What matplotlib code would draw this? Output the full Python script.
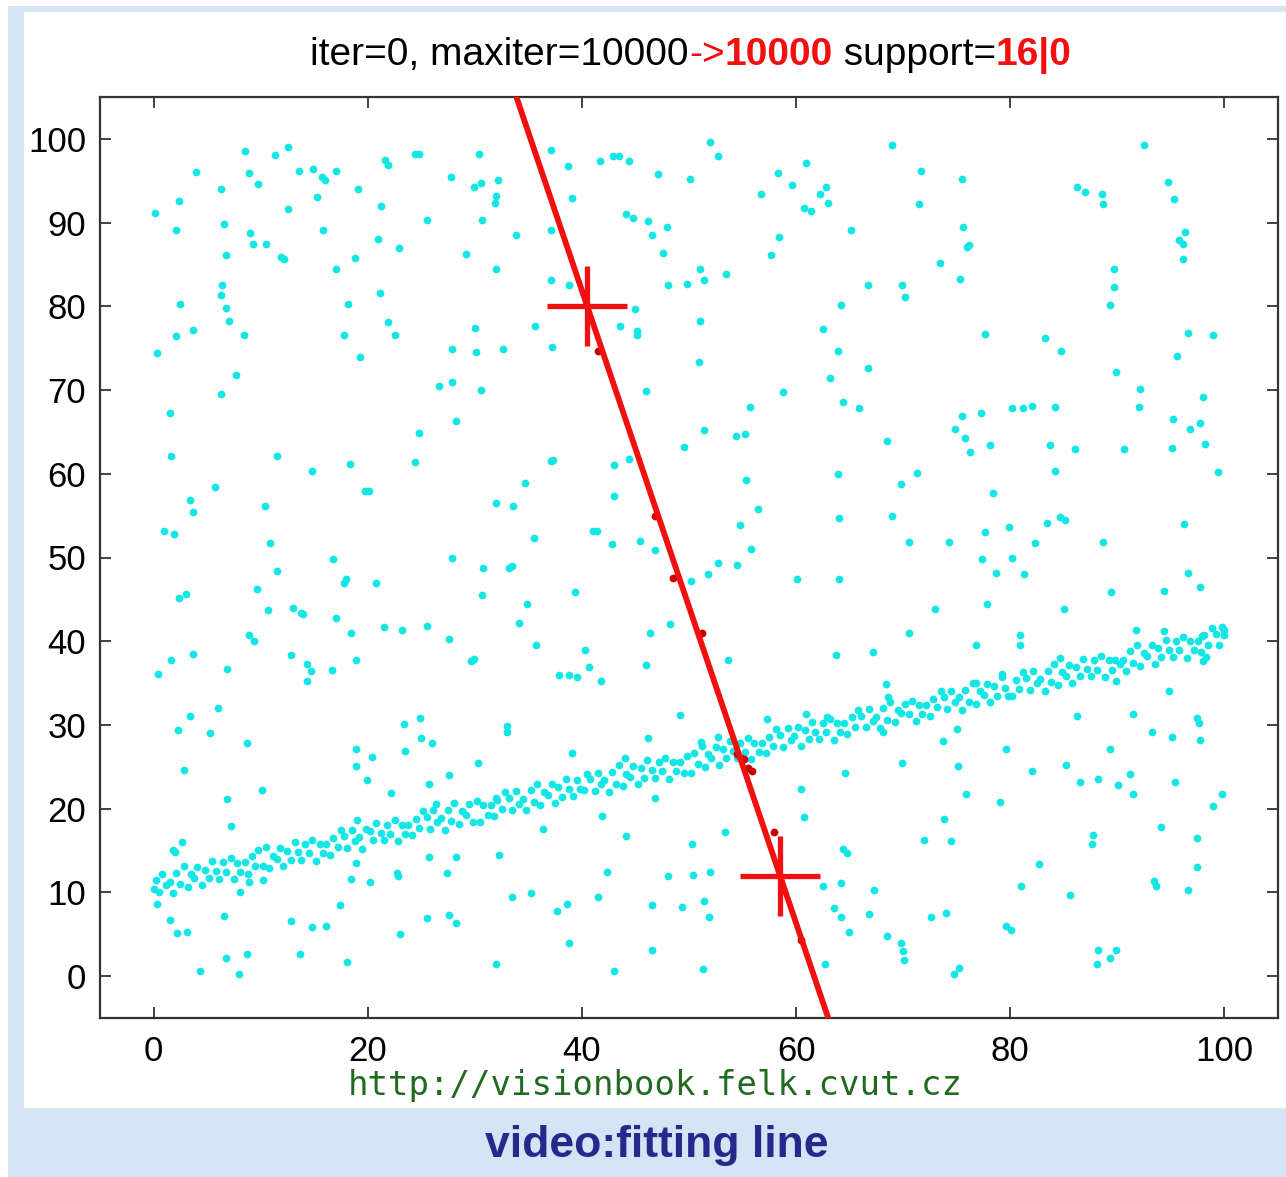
import matplotlib
matplotlib.use("Agg")
import matplotlib.pyplot as plt
from matplotlib.patches import Rectangle

# ---------------- data ----------------
# scattered outliers
out_x = [8.5, 11.3, 12.6, 4.0, 8.9, 9.8, 13.6, 14.9, 15.7, 16.0, 17.0, 21.6, 21.9, 24.4, 24.8, 30.4,
         6.3, 2.4, 0.1, 12.6, 15.3, 19.1, 21.2, 27.8, 29.9, 30.6, 32.0, 31.9, 32.2, 2.1, 6.6, 9.0,
         9.3, 10.5, 6.8, 11.9, 12.2, 15.8, 17.0, 18.8, 21.0, 22.9, 25.5, 29.2, 30.7, 32.0, 6.4, 6.3,
         2.5, 6.8, 7.0, 3.7, 2.1, 8.4, 0.3, 7.7, 6.3, 21.1, 18.2, 21.9, 22.5, 17.8, 19.3, 30.0,
         27.9, 30.1, 26.7, 27.9, 30.6,
         37.1, 38.7, 41.7, 42.9, 43.5, 44.4, 47.1, 50.1, 52.0, 52.7, 39.1, 44.1, 44.8, 46.2, 47.9,
         46.5, 47.6, 33.8, 37.1, 37.1, 38.8, 51.0, 51.4, 53.5, 48.0, 49.8, 45.0, 35.6, 43.6, 45.1,
         45.1, 51.0, 37.2, 32.6, 50.9, 46.0, 58.8, 58.3, 60.9, 59.6, 62.8, 62.2, 63.0, 60.7, 61.4,
         56.7, 65.1, 58.4, 57.7, 69.0, 66.7, 64.2, 62.5, 63.9, 66.7, 63.2,
         71.7, 75.5, 71.5, 75.6, 76.0, 76.1, 73.4, 75.3, 69.9, 70.2, 77.6, 83.2, 84.7, 89.9, 92.1,
         98.0, 86.2, 87.0, 88.6, 88.7, 92.5, 94.7, 95.3, 96.3, 95.8, 96.1, 96.1, 89.7, 89.7, 89.3,
         96.6, 98.9, 95.6,
         1.5, 1.6, 11.5, 14.8, 18.3, 24.4, 24.8, 28.2, 5.7, 3.4, 3.7, 10.4, 19.7, 20.1, 32.0, 1.0,
         1.9, 10.9, 16.8, 27.9, 30.8, 11.5, 18.0, 17.8, 20.8, 2.4, 3.0, 9.7, 30.7, 10.7, 13.0, 13.8,
         14.0, 17.0, 18.4, 21.5, 23.2, 25.5, 27.6, 8.9, 9.4, 1.6, 3.7, 0.4, 6.9, 12.8, 14.3, 14.7,
         14.3, 16.7, 18.9, 29.9, 29.6,
         55.7, 64.4, 65.9, 51.4, 54.4, 55.2, 49.5, 68.5, 37.1, 37.3, 43.0, 44.4, 55.3, 63.9, 34.7,
         43.0, 33.6, 56.4, 64.0, 69.0, 54.8, 41.0, 41.4, 35.5, 42.8, 45.4, 46.8, 55.8, 33.2, 33.5,
         52.7, 54.5, 51.8, 50.2, 60.1, 64.0, 39.4, 34.9, 34.1, 48.2, 46.4, 35.7, 40.3, 40.7, 37.9,
         38.8, 39.5, 41.8, 46.0, 53.6, 63.7, 67.2, 68.4,
         92.0, 75.5, 77.3, 80.2, 81.2, 82.0, 84.2, 74.8, 75.8, 76.2, 78.1, 83.7, 86.0, 90.6, 95.2,
         96.8, 97.7, 95.1, 98.2, 84.2, 99.4, 71.3, 69.8, 78.4, 77.6, 79.9, 83.4, 84.6, 85.1, 96.2,
         70.5, 74.3, 82.3, 88.7, 77.4, 80.2, 78.7, 81.3, 96.6, 97.7, 89.4, 94.4, 73.0, 77.8, 85.0,
         70.5, 76.8, 80.9, 80.9, 91.7, 94.4, 97.9, 84.6, 79.2, 76.8, 89.9, 98.0, 98.3,
         3.4, 6.0, 2.3, 5.3, 8.7, 2.8, 10.1, 6.9, 7.2, 2.0, 2.7, 1.8, 0.3, 1.5, 2.2, 3.1, 6.6, 8.1,
         8.9, 10.2, 6.8, 8.7, 4.3, 8.0, 12.8, 13.7, 14.8, 16.1, 17.4, 18.1, 18.9, 18.9, 20.4, 19.9,
         19.0, 18.9, 18.4, 20.2, 22.2, 23.4, 24.9, 23.5, 25.0, 26.0, 25.7, 26.4, 27.6, 30.3, 32.0,
         22.7, 22.8, 25.7, 28.2, 27.4, 25.5, 27.6, 28.2, 23.0, 32.0, 32.3,
         49.2, 33.0, 33.0, 46.2, 39.1, 44.0, 51.1, 52.7, 57.3, 60.9, 62.9, 68.6, 64.6, 60.5, 60.7,
         46.8, 41.9, 36.4, 44.1, 50.3, 53.4, 42.3, 48.0, 50.4, 52.0, 33.5, 35.2, 41.5, 37.7,
         38.6, 46.5, 49.3, 51.4, 51.9, 38.8, 46.5, 43.0, 51.3, 64.4, 64.8, 62.5, 64.2, 67.3, 63.5,
         64.2, 66.8, 64.9, 68.5, 62.7,
         86.2, 91.5, 94.8, 97.4, 97.6, 97.7, 93.2, 95.1, 68.1, 73.7, 75.0, 69.9, 75.1, 79.6, 82.0,
         85.2, 89.3, 86.5, 88.2, 90.1, 91.2, 91.5, 95.4, 75.9, 79.0, 98.9, 99.8, 73.8, 71.9, 74.5,
         94.1, 87.7, 87.6, 97.4, 82.7, 97.4, 81.0, 85.6, 93.4, 93.6, 96.6, 72.6, 74.0, 79.6, 80.1,
         69.8, 70.0, 70.1, 74.7, 75.2, 88.2, 89.9, 89.3, 88.1]
out_y = [98.5, 98.1, 99.0, 96.1, 95.9, 94.6, 96.2, 96.4, 95.5, 95.1, 96.2, 97.5, 96.9, 98.2, 98.2, 98.2,
         94.0, 92.6, 91.1, 91.6, 93.0, 94.0, 92.0, 95.5, 94.2, 94.7, 93.2, 92.3, 95.1, 89.1, 89.8, 88.7,
         87.5, 87.4, 86.1, 85.9, 85.6, 89.1, 84.5, 85.8, 88.0, 87.0, 90.3, 86.3, 90.3, 84.4, 82.5, 81.3,
         80.3, 79.8, 78.2, 77.2, 76.5, 76.6, 74.4, 71.8, 69.5, 81.6, 80.3, 78.1, 76.6, 76.6, 74.0, 77.4,
         74.9, 74.6, 70.5, 71.0, 70.0,
         98.7, 96.7, 97.3, 98.0, 97.9, 97.4, 95.8, 95.2, 99.6, 98.0, 92.9, 91.0, 90.5, 90.2, 89.5,
         88.5, 86.4, 88.5, 89.1, 83.1, 82.6, 84.4, 83.2, 83.9, 82.5, 82.7, 79.7, 77.6, 77.6, 77.0,
         76.6, 78.2, 75.1, 74.9, 73.4, 69.9, 69.8, 95.9, 97.1, 94.5, 94.3, 93.4, 92.3, 91.8, 91.4,
         93.4, 89.1, 88.3, 86.1, 99.3, 82.5, 80.1, 77.3, 74.7, 72.6, 71.4,
         96.2, 95.2, 92.2, 89.5, 87.1, 87.3, 85.2, 83.3, 82.5, 81.1, 76.7, 76.2, 74.7, 72.1, 70.1,
         69.2, 94.2, 93.6, 93.4, 92.2, 99.3, 94.9, 92.8, 88.9, 87.9, 87.5, 85.7, 84.5, 82.3, 80.1,
         76.8, 76.6, 74.1,
         67.2, 62.1, 62.1, 60.3, 61.2, 61.4, 64.9, 66.3, 58.4, 56.9, 55.4, 56.2, 58.0, 58.0, 56.5, 53.2,
         52.8, 51.7, 49.8, 49.9, 48.7, 48.4, 47.4, 46.9, 46.9, 45.2, 45.7, 46.2, 45.5, 43.7, 44.0, 43.4,
         43.2, 42.8, 41.0, 41.7, 41.4, 41.8, 40.3, 40.7, 40.0, 37.7, 38.5, 36.1, 36.7, 38.4, 37.3, 36.4,
         35.3, 36.6, 37.7, 37.9, 37.6,
         68.0, 68.6, 67.9, 65.2, 64.5, 64.8, 63.2, 63.9, 61.5, 61.6, 61.1, 61.8, 59.3, 60.0, 58.9,
         57.3, 56.2, 55.8, 54.7, 55.0, 53.9, 53.2, 53.2, 52.3, 51.6, 52.0, 50.9, 51.0, 48.7, 49.0,
         49.3, 49.1, 48.0, 47.2, 47.4, 47.4, 45.9, 44.5, 42.2, 42.1, 41.0, 39.6, 38.9, 36.9, 36.0,
         36.0, 35.7, 35.3, 37.2, 37.7, 38.4, 38.7, 34.9,
         68.0, 66.9, 67.3, 67.8, 67.9, 68.1, 68.0, 65.3, 64.3, 62.6, 63.4, 63.4, 63.0, 63.0, 66.5,
         65.3, 66.1, 63.1, 63.5, 60.3, 60.2, 60.1, 58.8, 57.7, 53.1, 53.6, 54.1, 54.8, 54.5, 54.0,
         51.8, 51.8, 51.7, 51.8, 49.8, 49.9, 48.1, 48.0, 48.2, 46.5, 45.9, 46.0, 43.8, 44.5, 43.8,
         41.0, 39.5, 40.7, 39.5, 41.4, 41.2, 40.6, 38.0, 36.1, 35.0, 35.2, 37.6, 38.1,
         31.1, 32.0, 29.4, 29.0, 27.9, 24.6, 22.2, 21.1, 17.9, 14.8, 16.0, 15.1, 8.6, 6.7, 5.1, 5.3, 7.2, 10.1,
         11.3, 11.5, 2.2, 2.6, 0.6, 0.3, 6.6, 2.6, 5.9, 6.0, 8.5, 1.7, 27.1, 25.1, 26.2, 23.4,
         18.7, 13.5, 11.6, 11.3, 21.9, 30.1, 30.8, 26.9, 28.4, 27.9, 22.9, 20.5, 24.0, 25.4, 21.3,
         12.3, 12.0, 14.2, 14.2, 12.3, 7.0, 7.3, 6.4, 5.0, 1.4, 14.5,
         31.2, 29.9, 29.1, 28.5, 26.7, 26.0, 28.0, 28.6, 30.7, 31.3, 30.9, 33.3, 24.3, 22.3, 19.0,
         21.3, 19.1, 17.6, 16.7, 15.8, 17.2, 12.4, 12.0, 12.1, 12.4, 9.5, 9.9, 9.5, 7.8,
         8.6, 8.5, 8.2, 9.0, 7.1, 4.0, 3.1, 0.6, 0.8, 15.2, 14.7, 10.8, 11.1, 10.3, 8.1,
         7.1, 7.4, 5.3, 4.8, 1.5,
         31.1, 31.3, 34.0, 30.8, 30.2, 28.2, 29.2, 28.6, 29.2, 28.1, 29.5, 25.5, 25.1, 27.1, 24.5,
         25.2, 27.1, 23.2, 23.5, 22.8, 24.1, 21.7, 23.2, 21.7, 20.8, 20.3, 21.7, 18.8, 16.3, 16.1,
         17.8, 16.8, 15.8, 16.5, 13.4, 13.0, 10.8, 9.7, 11.4, 10.8, 10.3, 7.1, 7.6, 6.0, 5.5,
         3.9, 3.0, 1.9, 0.2, 1.0, 3.1, 3.1, 2.2, 1.4]

# the dense band of points along the true line
band_x = [0.2, 0.5, 0.8, 1.2, 1.5, 1.8, 2.1, 2.5, 2.8, 3.2, 3.5, 3.8, 4.1, 4.5, 4.8, 5.2, 5.5, 5.8, 6.1, 6.5, 6.8, 7.2, 7.5, 7.8, 8.1, 8.5, 8.8, 9.2, 9.5, 9.8,
          10.2, 10.5, 10.8, 11.2, 11.5, 11.8, 12.1, 12.5, 12.8, 13.2, 13.5, 13.8, 14.1, 14.5, 14.8, 15.2, 15.5, 15.8, 16.1, 16.5, 16.8, 17.2, 17.5, 17.8, 18.1, 18.5, 18.8, 19.2, 19.5, 19.8,
          20.2, 20.5, 20.8, 21.2, 21.5, 21.8, 22.1, 22.5, 22.8, 23.2, 23.5, 23.8, 24.1, 24.5, 24.8, 25.2, 25.5, 25.8, 26.1, 26.5, 26.8, 27.2, 27.5, 27.8, 28.1, 28.5, 28.8, 29.2, 29.5, 29.8,
          30.2, 30.5, 30.8, 31.2, 31.5, 31.8, 32.1, 32.5, 32.8, 33.2, 33.5, 33.8, 34.1, 34.5, 34.8, 35.2, 35.5, 35.8, 36.1, 36.5, 36.8, 37.2, 37.5, 37.8, 38.1, 38.5, 38.8, 39.2, 39.5, 39.8,
          40.2, 40.5, 40.8, 41.2, 41.5, 41.8, 42.1, 42.5, 42.8, 43.2, 43.5, 43.8, 44.1, 44.5, 44.8, 45.2, 45.5, 45.8, 46.1, 46.5, 46.8, 47.2, 47.5, 47.8, 48.1, 48.5, 48.8, 49.2, 49.5, 49.8,
          50.2, 50.5, 50.8, 51.2, 51.5, 51.8, 52.1, 52.5, 52.8, 53.2, 53.5, 53.8, 54.1, 54.5, 54.8, 55.2, 55.5, 55.8, 56.1, 56.5, 56.8, 57.2, 57.5, 57.8, 58.1, 58.5, 58.8, 59.2, 59.5, 59.8,
          60.2, 60.5, 60.8, 61.2, 61.5, 61.8, 62.1, 62.5, 62.8, 63.2, 63.5, 63.8, 64.1, 64.5, 64.8, 65.2, 65.5, 65.8, 66.1, 66.5, 66.8, 67.2, 67.5, 67.8, 68.1, 68.5, 68.8, 69.2, 69.5, 69.8,
          70.2, 70.5, 70.8, 71.2, 71.5, 71.8, 72.1, 72.5, 72.8, 73.2, 73.5, 73.8, 74.1, 74.5, 74.8, 75.2, 75.5, 75.8, 76.1, 76.5, 76.8, 77.2, 77.5, 77.8, 78.1, 78.5, 78.8, 79.2, 79.5, 79.8,
          80.2, 80.5, 80.8, 81.2, 81.5, 81.8, 82.1, 82.5, 82.8, 83.2, 83.5, 83.8, 84.1, 84.5, 84.8, 85.2, 85.5, 85.8, 86.1, 86.5, 86.8, 87.2, 87.5, 87.8, 88.1, 88.5, 88.8, 89.2, 89.5, 89.8,
          90.2, 90.5, 90.8, 91.2, 91.5, 91.8, 92.1, 92.5, 92.8, 93.2, 93.5, 93.8, 94.1, 94.5, 94.8, 95.2, 95.5, 95.8, 96.1, 96.5, 96.8, 97.2, 97.5, 97.8, 98.1, 98.5, 98.8, 99.2, 99.5, 99.8,
          0.0, 100.0, 100.0]
band_y = [11.5, 10.0, 12.2, 10.9, 11.3, 9.9, 12.3, 11.0, 13.1, 10.7, 12.2, 11.7, 13.0, 10.9, 12.7, 11.7, 13.8, 12.5, 11.6, 13.6, 12.4, 14.1, 11.6, 13.5, 12.4, 13.6, 12.2, 14.3, 13.2, 15.1,
          13.2, 15.4, 12.9, 14.4, 14.0, 15.3, 13.1, 15.0, 13.9, 16.0, 14.8, 13.9, 15.8, 14.7, 16.3, 13.8, 15.8, 14.7, 15.8, 14.5, 16.5, 15.4, 17.4, 16.7, 15.3, 17.5, 16.1, 16.6, 15.2, 17.6,
          17.3, 16.2, 18.3, 17.1, 16.2, 18.1, 17.0, 18.6, 16.1, 18.1, 17.0, 18.1, 16.8, 18.8, 17.7, 19.7, 19.0, 17.6, 19.8, 18.4, 18.9, 17.5, 19.9, 18.5, 20.7, 18.2, 19.7, 19.3, 20.6, 18.4,
          20.9, 18.4, 20.4, 19.3, 20.4, 19.1, 21.0, 20.0, 22.0, 21.3, 19.9, 22.1, 20.6, 21.2, 19.8, 22.2, 20.8, 23.0, 20.4, 22.0, 21.6, 22.9, 20.7, 22.6, 21.4, 23.6, 22.4, 21.5, 23.4, 22.3,
          22.2, 24.2, 23.5, 22.1, 24.3, 22.9, 23.4, 22.0, 24.4, 23.0, 25.2, 22.7, 24.2, 23.8, 25.1, 22.9, 24.8, 23.7, 25.8, 24.6, 23.7, 25.6, 24.5, 26.1, 23.6, 25.6, 24.5, 25.6, 24.3, 26.3,
          24.3, 26.7, 25.3, 27.5, 25.0, 26.5, 26.1, 27.4, 25.2, 27.1, 26.0, 28.1, 26.9, 26.0, 27.9, 26.8, 28.4, 25.9, 27.9, 26.8, 27.9, 26.6, 28.6, 27.5, 29.5, 28.8, 27.4, 29.6, 28.2, 28.7,
          29.7, 27.5, 29.4, 28.3, 30.4, 29.2, 28.3, 30.2, 29.1, 30.7, 28.2, 30.2, 29.1, 30.2, 28.9, 30.9, 29.8, 31.8, 31.1, 29.7, 31.9, 30.5, 31.0, 29.6, 32.0, 30.6, 32.8, 30.3, 31.8, 31.4,
          32.5, 31.3, 32.9, 30.5, 32.4, 31.3, 32.4, 31.1, 33.1, 32.1, 34.0, 33.3, 31.9, 34.1, 32.7, 33.3, 31.8, 34.2, 32.8, 35.0, 32.5, 34.1, 33.6, 34.9, 32.7, 34.6, 33.5, 35.7, 34.4, 33.5,
          33.4, 35.4, 34.3, 36.3, 35.6, 34.2, 36.4, 35.0, 35.5, 34.1, 36.5, 35.1, 37.3, 34.8, 36.3, 35.9, 37.2, 35.0, 36.9, 35.8, 37.9, 36.7, 35.8, 37.7, 36.6, 38.2, 35.7, 37.7, 36.6, 37.7,
          37.3, 37.8, 36.4, 38.8, 37.4, 39.6, 37.1, 38.6, 38.2, 39.5, 37.3, 39.2, 38.1, 40.2, 39.0, 38.1, 40.0, 38.9, 40.5, 38.0, 40.0, 38.9, 40.0, 38.7, 40.7, 39.6, 41.6, 40.9, 39.5, 41.7,
          10.4, 40.8, 41.3]

# points found consistent with the hypothesis (shown in red)
inl_x = [41.5, 46.8, 48.5, 51.2, 54.5, 54.9, 55.1, 55.5, 55.9, 57.9, 60.5]
inl_y = [74.7, 54.9, 47.5, 41.0, 26.5, 26.1, 25.9, 24.8, 24.5, 17.2, 4.3]

# the two sampled points defining the hypothesis line
sample_x = [40.5, 58.5]
sample_y = [80.0, 12.0]

xticks = [0, 20, 40, 60, 80, 100]
yticks = [0, 10, 20, 30, 40, 50, 60, 70, 80, 90, 100]

# ---------------- styling ----------------
W, H = 1286, 1177
CYAN = '#14e6e6'
RED = '#f01010'
BG_BLUE = '#d4e4f4'
FONT = ['Liberation Sans', 'DejaVu Sans']
MS = 5.6

fig = plt.figure(figsize=(W / 100, H / 100), dpi=100, facecolor='white')

# light blue frame + white inner panel
fig.patches.append(Rectangle((8 / W, 0), 1 - 8 / W, 1 - 6 / H, transform=fig.transFigure,
                             facecolor=BG_BLUE, edgecolor='none', zorder=-3))
fig.patches.append(Rectangle((24 / W, (H - 1108) / H), 1 - 24 / W, (1108 - 12) / H,
                             transform=fig.transFigure, facecolor='white', edgecolor='none', zorder=-2))

ax = fig.add_axes([100 / W, (H - 1018) / H, (1278 - 100) / W, (1018 - 97) / H])
ax.set_facecolor('white')

ax.plot(out_x, out_y, 'o', color=CYAN, markersize=MS, markeredgewidth=0, zorder=2)
ax.plot(band_x, band_y, 'o', color=CYAN, markersize=MS, markeredgewidth=0, zorder=2)
ax.plot(inl_x, inl_y, 'o', color='#c80000', markersize=MS, markeredgewidth=0, zorder=3)
ax.axline((sample_x[0], sample_y[0]), (sample_x[1], sample_y[1]), color=RED, lw=4.2, zorder=4)
ax.plot(sample_x, sample_y, '+', color=RED, markersize=58, markeredgewidth=3.8, zorder=5)

ax.set_xlim(-5, 105)
ax.set_ylim(-5, 105)
ax.set_xticks(xticks)
ax.set_yticks(yticks)
ax.set_xticklabels([str(v) for v in xticks], fontfamily=FONT, fontsize=25)
ax.set_yticklabels([str(v) for v in yticks], fontfamily=FONT, fontsize=25)
ax.tick_params(direction='in', length=8, width=1.3, color='#333333', top=True, right=True)
ax.tick_params(axis='x', pad=12)
ax.tick_params(axis='y', pad=10)
for s in ax.spines.values():
    s.set_color('#333333')
    s.set_linewidth(1.6)

# ---------------- multi-coloured title ----------------
pieces = [("iter=0, maxiter=10000", 'black', 'normal'),
          ("->", RED, 'normal'),
          ("10000", RED, 'bold'),
          (" support=", 'black', 'normal'),
          ("16|0", RED, 'bold')]
renderer = fig.canvas.get_renderer()
texts, widths = [], []
for s, c, w in pieces:
    t = fig.text(0, 0, s, color=c, fontweight=w, fontsize=28, fontfamily=FONT,
                 ha='left', va='baseline')
    bb = t.get_window_extent(renderer=renderer)
    texts.append(t)
    widths.append(bb.width)
total = sum(widths)
x0 = 691 - total / 2
base_y = (H - 65) / H
for t, wpx in zip(texts, widths):
    t.set_position((x0 / W, base_y))
    x0 += wpx

# watermark and banner
fig.text(655 / W, (H - 1086) / H, "http://visionbook.felk.cvut.cz", color='#216b21',
         fontsize=24.5, fontfamily=['DejaVu Sans Mono'], ha='center', va='center')
fig.text(657 / W, (H - 1145) / H, "video:fitting line", color='#28288c', fontsize=32,
         fontweight='bold', fontfamily=FONT, ha='center', va='center')

fig.savefig('out.png', dpi=100, facecolor=fig.get_facecolor())
